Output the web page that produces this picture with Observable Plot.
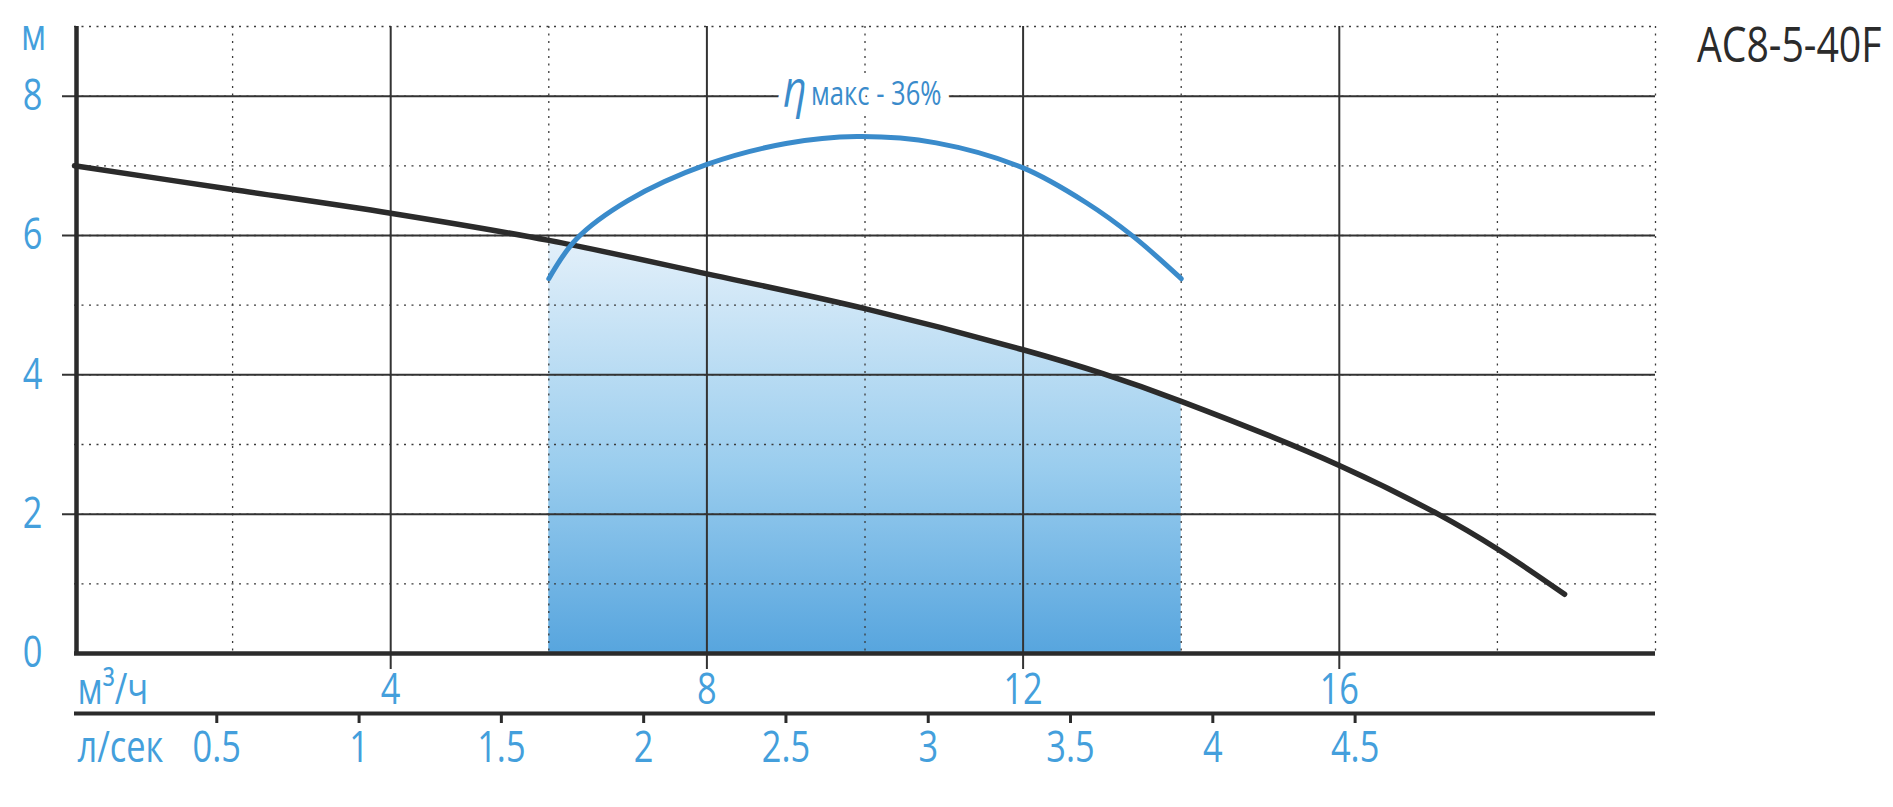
<!DOCTYPE html>
<html>
<head>
<meta charset="utf-8">
<script src="https://cdn.jsdelivr.net/npm/d3@7"></script>
<script src="https://cdn.jsdelivr.net/npm/@observablehq/plot@0.6"></script>
<style>
  html, body { margin: 0; padding: 0; background: #fff; }
</style>
</head>
<body>
<div id="chart"></div>
<script>
// ---- data ----
const flowQ = [0, 2, 4, 6, 8, 10, 12, 13, 14, 16, 17.25, 18, 18.85];      // m³/h
const headH = [7.00, 6.66, 6.32, 5.93, 5.45, 4.95, 4.36, 4.02, 3.62, 2.70, 2.00, 1.50, 0.85]; // m
const effQ = [6.0, 6.35, 7.0, 8.0, 9.0, 9.9, 10.9, 12.0, 12.8, 13.4, 14.0];
const effH = [5.38, 5.95, 6.50, 7.02, 7.32, 7.42, 7.33, 6.97, 6.47, 5.98, 5.38];
const workFrom = 6, workTo = 14;
const qMajor = [4, 8, 12, 16];
const qMinor = [2, 6, 10, 14, 18, 20];
const hMajor = [2, 4, 6, 8];
const hMinor = [1, 3, 5, 7, 9];
const hTicks = [0, 2, 4, 6, 8];
const lsTicks = [0.5, 1, 1.5, 2, 2.5, 3, 3.5, 4, 4.5];
const lsFactor = 3.6;
const modelName = "AC8-5-40F";
const unitH = "м";
const unitQ = "м³/ч";
const unitLs = "л/сек";
const etaSymbol = "η";
const etaMax = 36;

// ---- derived tables ----
const head = flowQ.map((q, i) => ({q, h: headH[i]}));
const eff = effQ.map((q, i) => ({q, h: effH[i]}));
const band = head.filter(d => d.q >= workFrom && d.q <= workTo);
const peak = d3.greatest(eff, d => d.h);

const FONT = '"Open Sans", "Noto Sans", sans-serif';
const BLUE_TXT = "#449fdc";
const BLUE_LINE = "#3a8bcb";
const DARK = "#2b2b2b";
const lbl = {fill: BLUE_TXT, fontSize: 43, fontWeight: 500, fontFamily: FONT, lineAnchor: "middle"};

const defsMark = () => {
  const ns = "http://www.w3.org/2000/svg";
  const defs = document.createElementNS(ns, "defs");
  defs.innerHTML = '<linearGradient id="workFill" x1="0" y1="0" x2="0" y2="1">' +
    '<stop offset="0" stop-color="#e3f0fa"/><stop offset="0.55" stop-color="#9acdee"/><stop offset="1" stop-color="#57a5de"/></linearGradient>';
  return defs;
};

const chart = Plot.plot({
  width: 1893,
  height: 807,
  marginLeft: 74,
  marginRight: 238,
  marginTop: 26,
  marginBottom: 154,
  x: {domain: [0, 20], axis: null},
  y: {domain: [0, 9], axis: null},
  style: {background: "#fff", overflow: "visible"},
  marks: [
    defsMark,
    Plot.areaY(band, {x: "q", y: "h", curve: "catmull-rom", fill: "url(#workFill)"}),
    // dotted grid
    Plot.ruleY(hMinor, {stroke: "#3a3a3a", strokeWidth: 1.3, strokeDasharray: "2,5.5"}),
    Plot.ruleY(hMajor, {stroke: "#3a3a3a", strokeWidth: 1.3, strokeDasharray: "2,5.5"}),
    Plot.ruleX(qMinor, {stroke: "#3a3a3a", strokeWidth: 1.3, strokeDasharray: "2,5.5"}),
    // solid grid
    Plot.ruleY(hMajor, {stroke: "#333", strokeWidth: 2, insetLeft: -12}),
    Plot.ruleX(qMajor, {stroke: "#333", strokeWidth: 2, insetBottom: -16}),
    // axes frame
    Plot.ruleX([0], {stroke: DARK, strokeWidth: 4.5, dx: 2}),
    Plot.ruleY([0], {stroke: DARK, strokeWidth: 4.5}),
    // secondary l/s axis
    Plot.ruleY([0], {stroke: DARK, strokeWidth: 4, dy: 60}),
    Plot.ruleX(lsTicks, {x: d => d * lsFactor, stroke: DARK, strokeWidth: 3, insetTop: 686, insetBottom: -70}),
    // efficiency label with white backing (drawn under the curves)
    Plot.text([etaSymbol], {x: () => peak.q, y: () => 8, text: d => d, textAnchor: "end", dx: -50, dy: -6,
      fill: BLUE_LINE, fontSize: 52, fontStyle: "italic", fontFamily: FONT, lineAnchor: "middle",
      stroke: "white", strokeWidth: 18, strokeLinejoin: "round", ariaLabel: "eta"}),
    Plot.text([`макс - ${etaMax}%`], {x: () => peak.q, y: () => 8, text: d => d, textAnchor: "start", dx: -46, dy: -1,
      fill: BLUE_LINE, fontSize: 32, fontWeight: 500, fontFamily: FONT, lineAnchor: "middle",
      stroke: "white", strokeWidth: 22, strokeLinejoin: "round", ariaLabel: "etamax"}),
    // curves
    Plot.line(head, {x: "q", y: "h", curve: "catmull-rom", stroke: DARK, strokeWidth: 5.5}),
    Plot.line(eff, {x: "q", y: "h", curve: "catmull-rom", stroke: BLUE_LINE, strokeWidth: 5}),
    // y tick labels
    Plot.text(hTicks, {y: d => d, text: d => String(d), frameAnchor: "left", dx: -42, textAnchor: "middle", ...lbl}),
    Plot.text([unitH], {frameAnchor: "top-left", text: d => d, dx: -41, dy: 10, textAnchor: "middle", ...lbl}),
    // x (m³/h) labels
    Plot.text(qMajor, {x: d => d, text: d => String(d), frameAnchor: "bottom", dy: 36.5, textAnchor: "middle", ...lbl}),
    Plot.text([unitQ], {frameAnchor: "bottom-left", text: d => d, dx: 3, dy: 36.5, textAnchor: "start", ...lbl}),
    // l/s labels
    Plot.text(lsTicks, {x: d => d * lsFactor, text: d => String(d), frameAnchor: "bottom", dy: 95, textAnchor: "middle", ...lbl}),
    Plot.text([unitLs], {frameAnchor: "bottom-left", text: d => d, dx: 3, dy: 95, textAnchor: "start", ...lbl}),
    // model name
    Plot.text([modelName], {frameAnchor: "top-right", text: d => d, dx: 226, dy: 20, textAnchor: "end",
      fill: DARK, fontSize: 49, fontFamily: FONT, lineAnchor: "middle", ariaLabel: "model"})
  ]
});

// condense the lettering (the reference uses a condensed face)
const squeeze = {model: 0.71, etamax: 0.92, eta: 0.9};
chart.querySelectorAll("text").forEach(t => {
  const g = t.closest("g[aria-label]");
  const key = g ? g.getAttribute("aria-label") : "";
  const s = squeeze[key] ?? 0.8;
  let tr = t.getAttribute("transform");
  if (!tr) {
    const x = +t.getAttribute("x") || 0, y = +t.getAttribute("y") || 0;
    t.removeAttribute("x"); t.removeAttribute("y");
    tr = `translate(${x},${y})`;
  }
  t.setAttribute("transform", `${tr} scale(${s},1)`);
});
document.getElementById("chart").appendChild(chart);
</script>
</body>
</html>
